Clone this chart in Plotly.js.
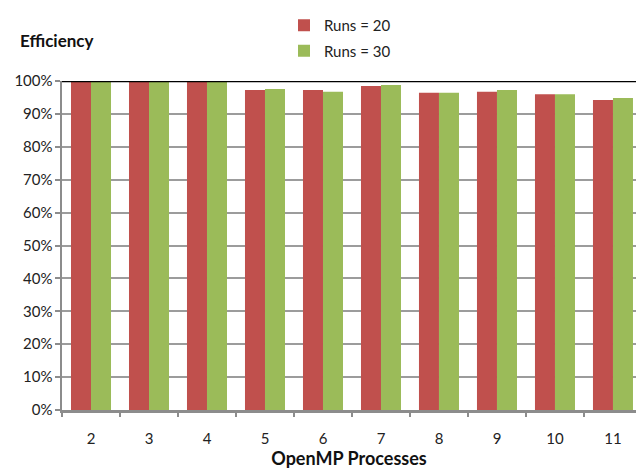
<!DOCTYPE html>
<html>
<head>
<meta charset="utf-8">
<script src="https://cdn.plot.ly/plotly-3.0.1.min.js"></script>
<style>html,body{margin:0;padding:0;background:#fff;overflow:hidden}#chart{width:636px;height:469px}</style>
</head>
<body>
<div id="chart"></div>
<script>
var categories = ['2','3','4','5','6','7','8','9','10','11'];
var runs20 = [1.000, 1.000, 1.000, 0.973, 0.973, 0.985, 0.964, 0.967, 0.960, 0.942];
var runs30 = [1.000, 1.000, 1.000, 0.976, 0.967, 0.988, 0.964, 0.973, 0.960, 0.948];
var seriesNames = ['Runs = 20', 'Runs = 30'];
var yTickVals = [0,0.1,0.2,0.3,0.4,0.5,0.6,0.7,0.8,0.9,1.0];

var FONT = 'Lato, "Open Sans", sans-serif';
var data = [
  {type:'bar', x:categories, y:runs20, name:seriesNames[0], legendgroup:'a',
   marker:{color:'#C0504D', line:{width:0}}, hoverinfo:'x+y'},
  {type:'bar', x:categories, y:runs30, name:seriesNames[1], legendgroup:'b',
   marker:{color:'#9BBB59', line:{width:0}}, hoverinfo:'x+y'}
];
var layout = {
  width:636, height:469,
  margin:{l:62, r:0, t:81, b:59, pad:0},
  paper_bgcolor:'#fff', plot_bgcolor:'#fff',
  font:{family:FONT, size:14, color:'#222'},
  barmode:'group', bargap:0.31, bargroupgap:0,
  title:{text:'<b>Efficiency</b>', font:{family:FONT, size:17, color:'#111'},
         xref:'container', yref:'container', x:20/636, xanchor:'left', y:1-41/469, yanchor:'middle'},
  showlegend:true,
  legend:{orientation:'v', traceorder:'grouped', tracegroupgap:3,
          x:(284-62)/574, xanchor:'left', yref:'container', y:1-9/469, yanchor:'top',
          font:{family:FONT, size:15, color:'#222'}, bgcolor:'rgba(0,0,0,0)'},
  xaxis:{type:'category', range:[-0.5, 9.397], tickson:'boundaries',
         ticks:'outside', ticklen:4, tickwidth:2, tickcolor:'#8c8c8c',
         showline:true, linecolor:'#8c8c8c', linewidth:2.5,
         showgrid:false, zeroline:false, ticklabelstandoff:13,
         tickfont:{family:FONT, size:15, color:'#222'},
         title:{text:'<b>OpenMP Processes</b>', font:{family:FONT, size:18, color:'#111'}, standoff:9}},
  yaxis:{range:[0,1], tickvals:yTickVals, tickformat:'.0%',
         ticks:'outside', ticklen:5, tickwidth:2, tickcolor:'#8c8c8c',
         showline:true, linecolor:'#8c8c8c', linewidth:2.5,
         showgrid:true, gridcolor:'#9c9c9c', gridwidth:2, zeroline:false,
         tickfont:{family:FONT, size:15, color:'#222'}, ticklabelstandoff:-1},
  shapes:[{type:'line', xref:'paper', yref:'y', x0:0, x1:1, y0:1, y1:1,
           line:{color:'#000', width:2.5}, layer:'above'}]
};
Plotly.newPlot('chart', data, layout, {displayModeBar:false, staticPlot:true});
</script>
</body>
</html>
